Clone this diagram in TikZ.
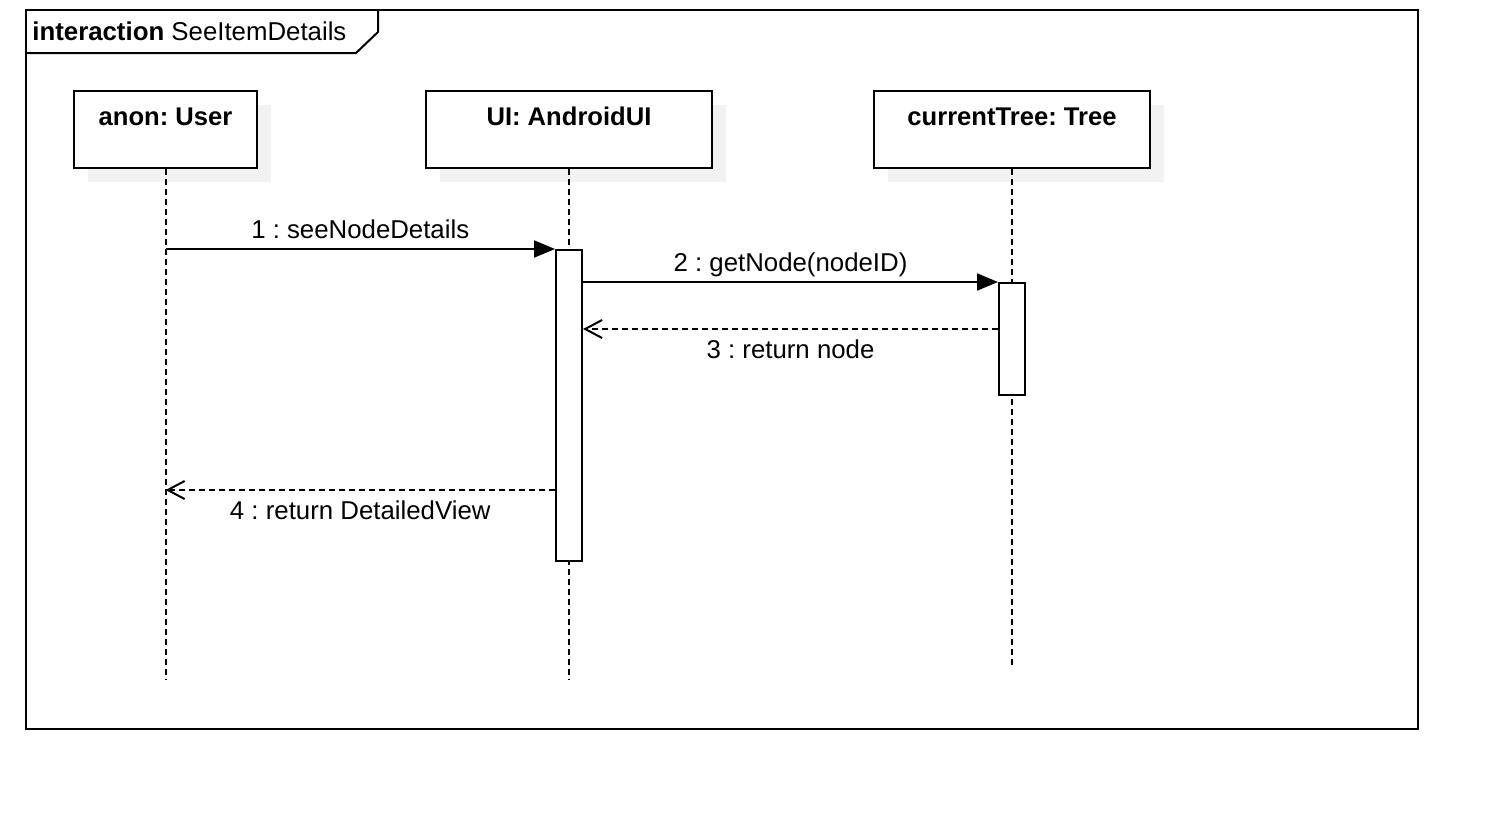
\documentclass[tikz,border=0pt]{standalone}
\usepackage{fontspec}
\setmainfont{Liberation Sans}
\frenchspacing
\usetikzlibrary{arrows.meta,shadows,calc}
\tikzset{
  lifehead/.style={draw,line width=1pt,fill=white,inner ysep=4pt,text height=13pt,text depth=17.5pt,
    minimum height=38.5pt,font=\fontsize{12.8}{15}\selectfont\bfseries,anchor=north,
    general shadow={fill=black!5,shadow xshift=7pt,shadow yshift=-7pt}},
  lifeline/.style={line width=1pt,dash pattern=on 3pt off 2pt},
  actbar/.style={draw,line width=1pt,fill=white,minimum width=13pt,inner sep=0pt,anchor=north},
  call/.style={line width=1pt,-{Triangle[length=10.5pt,width=8.5pt]}},
  reply/.style={line width=1pt,dash pattern=on 3pt off 2pt,-{Straight Barb[length=8.5pt,width=9pt,line width=1pt]}},
  msgabove/.style={midway,anchor=base,yshift=5.5pt},
  msgbelow/.style={midway,anchor=base,yshift=-14.5pt}
}
\begin{document}
\begin{tikzpicture}[x=0.5pt,y=-0.5pt,font=\fontsize{12.9}{15}\selectfont]
  \useasboundingbox (0,0) rectangle (1492,820);
  %% frame
  \draw[line width=1pt] (26,10) rectangle (1418,729);
  \draw[line width=1pt] (26,53) -- (356,53) -- (378,32) -- (378,10);
  \node[anchor=west,inner sep=0pt] (title) at (32,31) {\textbf{interaction} SeeItemDetails};
  %% lifelines
  \node[lifehead,minimum width=91.5pt] (user) at (165.5,90) {anon: User};
  \node[lifehead,minimum width=143pt] (ui) at (569,90) {UI: AndroidUI};
  \node[lifehead,minimum width=138pt] (tree) at (1012,90) {currentTree: Tree};
  \coordinate (userend) at (user.south |- 0,680);
  \coordinate (uiend) at (ui.south |- 0,680);
  \coordinate (treeend) at (tree.south |- 0,666);
  \foreach \n in {user,ui,tree} \draw[lifeline] (\n.south) -- (\n end);
  %% activations
  \node[actbar,minimum height=155.5pt] (uiact) at (ui.south |- 0,249) {};
  \node[actbar,minimum height=56pt] (treeact) at (tree.south |- 0,282) {};
  %% messages
  \draw[call] (user.south |- uiact.north) -- (uiact.north west)
    node[msgabove] {1 : seeNodeDetails};
  \draw[call] (uiact.east |- treeact.north) -- (treeact.north west)
    node[msgabove] {2 : getNode(nodeID)};
  \draw[reply] ($(treeact.north west)+(0,47)$) -- (uiact.east |- {$(treeact.north west)+(0,47)$})
    node[msgbelow] {3 : return node};
  \draw[reply] (uiact.west |- 0,490) -- (user.south |- 0,490)
    node[msgbelow] {4 : return DetailedView};
\end{tikzpicture}
\end{document}
